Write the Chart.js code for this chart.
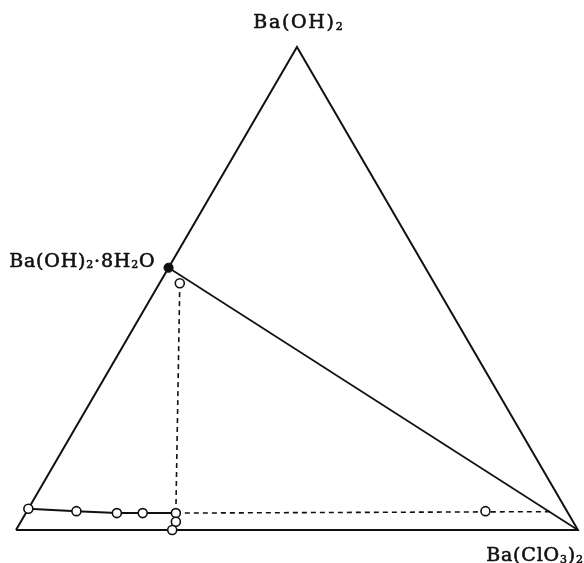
<!DOCTYPE html>
<html>
<head>
<meta charset="utf-8">
<script src="https://cdn.jsdelivr.net/npm/chart.js@4/dist/chart.umd.min.js"></script>
<style>
  html, body { margin: 0; padding: 0; background: #ffffff; }
  #wrap { width: 584px; height: 563px; position: relative; }
</style>
</head>
<body>
<div id="wrap"><canvas id="chart"></canvas></div>
<script>
// Ternary system H2O – Ba(OH)2 – Ba(ClO3)2, compositions in mass fractions.
// Each point is given by its Ba(OH)2 and Ba(ClO3)2 fractions; water is the remainder.

// Saturated solutions (solubility isotherm)
const solutionBaOH2  = [0.044, 0.039, 0.035, 0.035, 0.035, 0.017, 0.000];
const solutionBaClO3 = [0.000, 0.088, 0.162, 0.208, 0.267, 0.276, 0.278];

// Wet residues
const residueBaOH2  = [0.511, 0.039];
const residueBaClO3 = [0.036, 0.816];

// Tie lines: solution index -> end point of the extrapolated line
const tieFrom       = [4, 4];
const tieEndBaOH2   = [0.511, 0.038];
const tieEndBaClO3  = [0.036, 0.931];

// Solid phase Ba(OH)2·8H2O
const hydrateBaOH2  = [0.543];
const hydrateBaClO3 = [0.000];

// Corners: H2O, Ba(OH)2, Ba(ClO3)2
const cornerBaOH2  = [0, 1, 0];
const cornerBaClO3 = [0, 0, 1];

// Labels as text runs: [text, isSubscript]
const labelTop     = [['Ba(OH)', 0], ['2', 1]];
const labelHydrate = [['Ba(OH)', 0], ['2', 1], ['·8H', 0], ['2', 1], ['O', 0]];
const labelRight   = [['Ba(ClO', 0], ['3', 1], [')', 0], ['2', 1]];

const H = Math.sqrt(3) / 2;
function toXY(a, b) { return { x: b + a / 2, y: a * H }; }
function pts(aArr, bArr) { return aArr.map((a, i) => toXY(a, bArr[i])); }

const corners = pts(cornerBaOH2, cornerBaClO3);
const solution = pts(solutionBaOH2, solutionBaClO3);
const residues = pts(residueBaOH2, residueBaClO3);
const hydrate = pts(hydrateBaOH2, hydrateBaClO3);
const tieEnds = pts(tieEndBaOH2, tieEndBaClO3);

const FONT = '"DejaVu Serif", "Liberation Serif", serif';

// Draws a formula with subscripts, character by character with extra tracking.
function drawRuns(ctx, runs, x, y, size, spacing, align) {
  const subSize = Math.round(size * 0.6);
  const chars = [];
  runs.forEach(([t, sub]) => {
    for (const ch of t) chars.push([ch, sub]);
  });
  let total = 0;
  chars.forEach(([ch, sub], i) => {
    ctx.font = (sub ? subSize : size) + 'px ' + FONT;
    total += ctx.measureText(ch).width + (i < chars.length - 1 ? spacing : 0);
  });
  let cx = align === 'center' ? x - total / 2 : align === 'right' ? x - total : x;
  ctx.textAlign = 'left';
  ctx.textBaseline = 'alphabetic';
  ctx.fillStyle = '#111';
  ctx.strokeStyle = '#111';
  ctx.lineWidth = 0.6;
  ctx.lineJoin = 'round';
  chars.forEach(([ch, sub]) => {
    ctx.font = (sub ? subSize : size) + 'px ' + FONT;
    const yy = y + (sub ? 1.5 : 0);
    ctx.fillText(ch, cx, yy);
    ctx.strokeText(ch, cx, yy);
    cx += ctx.measureText(ch).width + spacing;
  });
}

const labelPlugin = {
  id: 'vertexLabels',
  afterDraw(chart) {
    const { ctx, scales: { x, y } } = chart;
    ctx.save();
    const apex = corners[1], right = corners[2], hyd = hydrate[0];
    drawRuns(ctx, labelTop, x.getPixelForValue(apex.x) + 1, y.getPixelForValue(apex.y) - 19, 19, 1.7, 'center');
    drawRuns(ctx, labelHydrate, x.getPixelForValue(hyd.x) - 14, y.getPixelForValue(hyd.y) - 1, 19, 0.8, 'right');
    drawRuns(ctx, labelRight, x.getPixelForValue(right.x) + 5, y.getPixelForValue(right.y) + 31, 19, 0.8, 'right');
    ctx.restore();
  }
};

const black = '#111111';

new Chart(document.getElementById('chart'), {
  type: 'scatter',
  data: {
    datasets: [
      {
        label: 'Ba(OH)2·8H2O',
        data: hydrate,
        pointRadius: 4.6,
        pointBackgroundColor: black,
        pointBorderColor: black,
        showLine: false,
        clip: false
      },
      {
        label: 'wet residues',
        data: residues,
        pointRadius: 4.5,
        pointBackgroundColor: '#ffffff',
        pointBorderColor: black,
        pointBorderWidth: 1.6,
        showLine: false,
        clip: false
      },
      {
        label: 'solutions',
        data: solution,
        pointRadius: 4.5,
        pointBackgroundColor: '#ffffff',
        pointBorderColor: black,
        pointBorderWidth: 1.6,
        borderColor: black,
        borderWidth: 2,
        showLine: true,
        clip: false
      },
      ...tieFrom.map((si, i) => ({
        label: 'tie line ' + (i + 1),
        data: [solution[si], tieEnds[i]],
        pointRadius: 0,
        borderColor: black,
        borderWidth: 1.6,
        borderDash: [5, 4],
        showLine: true,
        clip: false
      })),
      {
        label: 'hydrate – Ba(ClO3)2',
        data: [hydrate[0], corners[2]],
        pointRadius: 0,
        borderColor: black,
        borderWidth: 1.7,
        showLine: true,
        clip: false
      },
      {
        label: 'triangle',
        data: [corners[0], corners[1], corners[2], corners[0]],
        pointRadius: 0,
        borderColor: black,
        borderWidth: 2,
        showLine: true,
        clip: false
      }
    ]
  },
  options: {
    responsive: true,
    maintainAspectRatio: false,
    animation: false,
    layout: { padding: { left: 16, right: 6, top: 47, bottom: 33 } },
    scales: {
      x: { type: 'linear', min: 0, max: 1, display: false },
      y: { type: 'linear', min: 0, max: H, display: false }
    },
    plugins: {
      legend: { display: false },
      tooltip: { enabled: false }
    }
  },
  plugins: [labelPlugin]
});
</script>
</body>
</html>
